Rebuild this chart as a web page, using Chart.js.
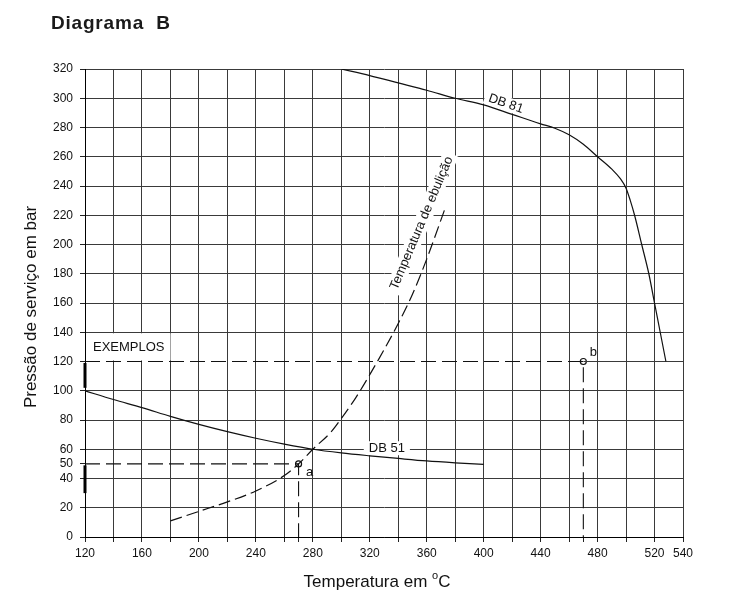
<!DOCTYPE html>
<html>
<head>
<meta charset="utf-8">
<script src="https://cdn.jsdelivr.net/npm/chart.js@4.4.1/dist/chart.umd.min.js"></script>
<style>
  html, body { margin: 0; padding: 0; background: #fff; }
</style>
</head>
<body>
<canvas id="chart" width="752" height="612"></canvas>
<script>
// Diagrama B - pressão de serviço x temperatura

// curve DB 81
const db81Temp  = [300, 320, 340, 360, 380, 400, 420, 440, 450, 460, 470, 480, 490, 496, 500, 503, 506, 511, 516, 520, 524, 528];
const db81Press = [320, 315.5, 310.5, 305.5, 300, 295.5, 289, 282.5, 279.5, 275, 268.5, 260, 251.5, 245, 238.5, 230, 220, 200, 180, 160, 140, 120];

// curve DB 51
const db51Temp  = [120, 140, 160, 180, 200, 220, 240, 260, 280, 300, 320, 340, 360, 380, 400];
const db51Press = [100, 94, 88.5, 82.5, 77, 72, 67.5, 63.5, 60, 57.5, 55.5, 53.7, 52, 50.7, 49.6];

// boiling temperature (dashed)
const boilTemp  = [180, 200, 220, 240, 260, 270, 280, 293, 300, 310, 320, 330, 340, 350, 360, 373];
const boilPress = [11, 17.5, 24, 31.5, 42, 50, 60, 72, 81, 95, 111, 128, 146, 166, 190, 225];

// worked examples
const exampleNames = ['a', 'b'];
const exampleTemp  = [270, 470];
const examplePress = [50, 120];

// bold marks on the pressure axis
const axisMarkLow  = [30, 49];
const axisMarkHigh = [102, 119];

// axes
const xGrid   = [120, 140, 160, 180, 200, 220, 240, 260, 280, 300, 320, 340, 360, 380, 400, 420, 440, 460, 480, 500, 520, 540];
const xLabels = [120, 160, 200, 240, 280, 320, 360, 400, 440, 480, 520, 540];
const yGrid   = [0, 20, 40, 60, 80, 100, 120, 140, 160, 180, 200, 220, 240, 260, 280, 300, 320];
const yLabels = [0, 20, 40, 50, 60, 80, 100, 120, 140, 160, 180, 200, 220, 240, 260, 280, 300, 320];

const FONT = "'Liberation Sans', Arial, sans-serif";
const GRID = '#3a3a3a';
const INK = '#111';

const pts = (xs, ys) => xs.map((x, i) => ({ x: x, y: ys[i] }));
const xTicks = [...new Set([...xGrid, ...exampleTemp])].sort((a, b) => a - b);
const yTicks = [...new Set([...yGrid, ...yLabels])].sort((a, b) => a - b);
const xMin = xGrid[0], xMax = xGrid[xGrid.length - 1];
const yMin = yGrid[0], yMax = yGrid[yGrid.length - 1];

const datasets = [
  { data: pts(db81Temp, db81Press), borderColor: INK, borderWidth: 1.2, cubicInterpolationMode: 'monotone' },
  { data: pts(db51Temp, db51Press), borderColor: INK, borderWidth: 1.2, cubicInterpolationMode: 'monotone' },
  { data: pts(boilTemp, boilPress), borderColor: INK, borderWidth: 1.2, borderDash: [12, 5], cubicInterpolationMode: 'monotone' }
];
exampleTemp.forEach((t, i) => {
  const p = examplePress[i];
  datasets.push({ data: [{ x: xMin, y: p }, { x: t, y: p }, { x: t, y: yMin }], borderColor: INK, borderWidth: 1.1, borderDash: [15, 6] });
  if (yGrid.includes(p)) {
    datasets.push({ data: [{ x: t, y: p }, { x: xMax, y: p }], borderColor: GRID, borderWidth: 1 });
  }
});
datasets.push({
  data: pts(exampleTemp, examplePress), showLine: false, pointRadius: 3, pointBorderWidth: 1.2,
  pointBorderColor: INK, pointBackgroundColor: 'rgba(0,0,0,0)'
});
[axisMarkLow, axisMarkHigh].forEach(m => {
  datasets.push({ data: [{ x: xMin, y: m[0] }, { x: xMin, y: m[1] }], borderColor: '#000', borderWidth: 3, clip: 4 });
});
datasets.forEach(d => {
  if (d.showLine === undefined) d.showLine = true;
  if (d.pointRadius === undefined) d.pointRadius = 0;
});

function boxedText(ctx, text, cx, cy, angle, font, padX, padY) {
  ctx.save();
  ctx.translate(cx, cy);
  ctx.rotate(angle * Math.PI / 180);
  ctx.font = font;
  const w = ctx.measureText(text).width;
  ctx.fillStyle = '#fff';
  ctx.fillRect(-w / 2 - padX, -7 - padY, w + 2 * padX, 14 + 2 * padY);
  ctx.fillStyle = INK;
  ctx.textAlign = 'center';
  ctx.textBaseline = 'middle';
  ctx.fillText(text, 0, 0);
  ctx.restore();
}

const annotate = {
  id: 'annotate',
  beforeDatasetsDraw(chart) {
    const ctx = chart.ctx, x = chart.scales.x, y = chart.scales.y;
    // EXEMPLOS
    ctx.save();
    ctx.font = '13px ' + FONT;
    const ew = ctx.measureText('EXEMPLOS').width;
    const ex = x.getPixelForValue(xMin) + 8;
    ctx.fillStyle = '#fff';
    ctx.fillRect(x.getPixelForValue(xMin) + 1, y.getPixelForValue(139.3), ew + 13, y.getPixelForValue(120.7) - y.getPixelForValue(139.3));
    ctx.fillStyle = INK;
    ctx.textBaseline = 'middle';
    ctx.fillText('EXEMPLOS', ex, y.getPixelForValue(130) + 1);
    ctx.restore();

    boxedText(ctx, 'DB 51', x.getPixelForValue(332), y.getPixelForValue(60.7), 0, '13px ' + FONT, 5, 0);
    boxedText(ctx, 'DB 81', x.getPixelForValue(415.6), y.getPixelForValue(296.2), 19, '13px ' + FONT, 4, 0);
    boxedText(ctx, 'Temperatura de ebulição', x.getPixelForValue(356.4), y.getPixelForValue(214.6), -67, '13px ' + FONT, 4, 1);
  },
  afterDatasetsDraw(chart) {
    const ctx = chart.ctx, x = chart.scales.x, y = chart.scales.y;
    const offs = [[11, 9], [10, -9]];
    ctx.save();
    ctx.font = '13px ' + FONT;
    ctx.fillStyle = INK;
    ctx.textAlign = 'center';
    ctx.textBaseline = 'middle';
    exampleNames.forEach((n, i) => {
      ctx.fillText(n, x.getPixelForValue(exampleTemp[i]) + offs[i][0], y.getPixelForValue(examplePress[i]) + offs[i][1]);
    });
    ctx.restore();
  },
  afterDraw(chart) {
    const ctx = chart.ctx, a = chart.chartArea;
    ctx.save();
    ctx.fillStyle = '#1a1a1a';
    ctx.font = 'bold 19px ' + FONT;
    ctx.letterSpacing = '0.8px';
    ctx.textBaseline = 'alphabetic';
    ctx.fillText('Diagrama  B', 51, 29);
    ctx.letterSpacing = '0px';

    ctx.fillStyle = INK;
    ctx.font = '17px ' + FONT;
    ctx.save();
    ctx.translate(31, (a.top + a.bottom) / 2 + 4);
    ctx.rotate(-Math.PI / 2);
    ctx.textAlign = 'center';
    ctx.textBaseline = 'middle';
    ctx.fillText('Pressão de serviço em bar', 0, 0);
    ctx.restore();

    // x title with superscript degree
    const p1 = 'Temperatura em ', sup = 'o', p2 = 'C';
    ctx.font = '17px ' + FONT;
    const w1 = ctx.measureText(p1).width, w3 = ctx.measureText(p2).width;
    ctx.font = '11px ' + FONT;
    const w2 = ctx.measureText(sup).width;
    let sx = (a.left + a.right) / 2 - 7 - (w1 + w2 + w3) / 2;
    const by = 587;
    ctx.textBaseline = 'alphabetic';
    ctx.font = '17px ' + FONT;
    ctx.fillText(p1, sx, by);
    ctx.font = '11px ' + FONT;
    ctx.fillText(sup, sx + w1, by - 8);
    ctx.font = '17px ' + FONT;
    ctx.fillText(p2, sx + w1 + w2, by);
    ctx.restore();
  }
};

new Chart(document.getElementById('chart'), {
  type: 'scatter',
  data: { datasets: datasets },
  options: {
    responsive: false,
    animation: false,
    layout: { padding: { left: 0, right: 69, top: 69, bottom: 0 } },
    plugins: { legend: { display: false }, tooltip: { enabled: false } },
    elements: { line: { tension: 0 } },
    scales: {
      x: {
        type: 'linear', min: xMin, max: xMax,
        afterBuildTicks: s => { s.ticks = xTicks.map(v => ({ value: v })); },
        afterFit: s => { s.height = 75; },
        border: { color: '#000', width: 1 },
        grid: {
          color: c => (c.tick && exampleTemp.includes(c.tick.value)) ? 'rgba(0,0,0,0)' : GRID,
          tickColor: '#222', tickLength: 5, lineWidth: 1
        },
        ticks: {
          autoSkip: false, maxRotation: 0, padding: 4, color: INK,
          font: { family: FONT, size: 12 },
          callback: v => xLabels.includes(v) ? String(v) : ''
        }
      },
      y: {
        type: 'linear', min: yMin, max: yMax,
        afterBuildTicks: s => { s.ticks = yTicks.map(v => ({ value: v })); },
        afterFit: s => { s.width = 85; },
        border: { color: '#000', width: 1 },
        grid: {
          color: c => (c.tick && (examplePress.includes(c.tick.value) || !yGrid.includes(c.tick.value))) ? 'rgba(0,0,0,0)' : GRID,
          tickColor: '#222', tickLength: 5, lineWidth: 1
        },
        ticks: {
          autoSkip: false, padding: 7, color: INK,
          font: { family: FONT, size: 12 },
          callback: v => yLabels.includes(v) ? String(v) : ''
        }
      }
    }
  },
  plugins: [annotate]
});
</script>
</body>
</html>
